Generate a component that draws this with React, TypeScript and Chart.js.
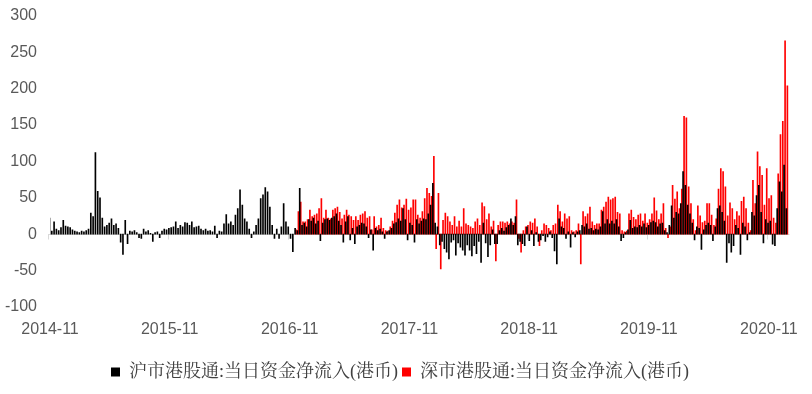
import React, { useEffect, useRef } from "react";
import { Chart, registerables } from "chart.js";

Chart.register(...registerables);

// Weekly samples starting at the first trading week of the Shanghai connect
const START_DATE = "2014-11-17";
const WEEK_DAYS = 7;
const SZ_START_WEEK = 107; // Shenzhen connect starts 2016-12-05

// x tick positions (days since START_DATE) and their labels
const TICK_DAYS = [0, 365, 731, 1096, 1461, 1826, 2192];
const TICK_LABELS = ["2014-11", "2015-11", "2016-11", "2017-11", "2018-11", "2019-11", "2020-11"];
const X_MAX_DAYS = 2287;
const AXIS_END_DAYS = 2255;

const Y_MIN = -100;
const Y_MAX = 300;
const Y_STEP = 50;

const SH_NAME = "沪市港股通:当日资金净流入(港币)";
const SZ_NAME = "深市港股通:当日资金净流入(港币)";

// 沪市港股通 当日资金净流入 (亿港币), weekly readings
const SH_VALUES = [
  22, 4, 17, 7, 5, 9, 19, 11, 10, 9,
  6, 4, 3, 2, 4, 3, 5, 7, 29, 24,
  112, 59, 50, 22, 10, 12, 15, 21, 12, 14,
  8, -11, -28, 19, -13, 4, 3, 5, 2, -5,
  -6, 7, 3, 5, 1, -10, 2, 3, -5, 4,
  7, 6, 8, 9, 10, 17, 8, 12, 10, 16,
  15, 12, 17, 9, 10, 11, 7, 5, 7, 4,
  5, 3, 11, -5, 4, 3, 14, 27, 14, 17,
  12, 26, 35, 61, 40, 21, 17, 7, -5, 3,
  12, 21, 49, 54, 64, 58, 37, 12, -6, 7,
  -6, 10, 42, 17, 10, -6, -24, 8, 5, 63,
  12, 15, 10, 20, 18, 22, 14, 18, -9, 15,
  20, 21, 19, 22, 24, 28, 18, 12, -11, 17,
  24, -8, 8, -13, 10, 12, 15, 14, 10, -5,
  6, -22, 8, 5, 7, 3, -6, 3, 5, 8,
  14, 16, 21, 18, 35, 20, -8, 15, 12, -11,
  20, 14, 18, 21, 20, 28, 40, 70, 15, 10,
  -15, -10, -20, -25, -34, -11, -8, -29, -12, -18,
  -22, -29, -15, -22, -30, -16, -27, -10, -39, 15,
  -12, -31, -15, 6, -13, -13, 5, 8, 4, 9,
  12, 21, 12, 24, -15, -10, -13, -16, 10, -9,
  5, -16, 2, -10, -8, -2, -10, -4, 3, -5,
  -23, -41, 21, 10, 8, -6, 3, -18, 2, -4,
  3, 5, 12, 10, 14, 7, 8, 5, 7, 6,
  10, 31, 14, 20, 14, 18, 14, 20, 10, -9,
  -5, 2, 6, 19, 8, 10, 9, 12, 10, 14,
  9, 12, 16, 18, 16, 10, 14, 15, 5, 2,
  12, 39, 22, 30, 28, 42, 86, 67, 40, 28,
  15, -8, 10, 8, -21, 6, 12, 15, 12, -9,
  10, 35, 39, 30, 18, -39, -12, -25, -16, 12,
  8, -28, 15, 10, -8, 2, 30, 25, 53, 67,
  30, -12, 20, 15, 18, -14, -16, 35, 72, 58, 95, 35,
];

// 深市港股通 当日资金净流入 (亿港币), weekly readings from SZ_START_WEEK
const SZ_VALUES = [
  6, 31, 44,
  17, 17, 20, 33, 24, 26, 28, 35, 49, 22,
  33, 22, 21, 33, 35, 37, 30, 21, 26, 33,
  26, 24, 19, 24, 19, 26, 28, 31, 22, 24,
  6, 24, 10, 12, 22, 8, 5, 4, 10, 18,
  29, 40, 47, 36, 40, 48, 33, 36, 47, 47,
  26, 22, 31, 49, 63, 56, 52, 107, -20, 56,
  -48, 19, 29, 24, 17, 12, 24, 10, 18, 10,
  35, 14, 12, 10, 8, 17, 21, 12, 43, 38,
  20, 28, 10, 18, -37, 12, 17, 17, 15, 17,
  14, 17, 15, 47, -6, -25, 5, 10, 12, 17,
  15, 21, 10, -16, 5, 14, 12, 8, 5, 12,
  14, 40, 31, 17, 28, 21, 24, 5, 3, 5,
  14, -41, 31, 24, 28, 37, 17, 12, 14, 14,
  33, 37, 44, 51, 47, 49, 51, 30, 28, 5,
  3, 4, 28, 33, 23, 20, 26, 28, 18, 28,
  15, 20, 28, 50, 32, 20, 28, 42, 8, -5,
  10, 67, 48, 58, 35, 62, 162, 160, 65, 42,
  20, 5, 39, 25, 16, 18, 42, 42, 26, 12,
  21, 62, 90, 86, 65, 25, 43, 35, 20, 31,
  25, 45, 51, 35, 15, 5, 74, 42, 113, 93,
  81, 40, 90, 49, 53, 22, 15, 83, 137, 155, 266, 204,
];

const SH_COLOR = "#000000";
const SZ_COLOR = "#FF0000";
const TEXT_COLOR = "#595959";
const AXIS_COLOR = "#D9D9D9";
const TICK_FONT = '"Liberation Sans", Arial, sans-serif';
const LEGEND_FONT = '"Liberation Serif", "Noto Serif CJK SC", "Noto Sans CJK SC", serif';

const zeroAxis = {
  id: "zeroAxis",
  beforeDatasetsDraw(chart: any) {
    const x = chart.scales.x;
    const y = chart.scales.y;
    const ctx = chart.ctx;
    const y0 = Math.round(y.getPixelForValue(0)) + 0.5;
    const xs = x.getPixelForValue(0) - 2;
    const xe = x.getPixelForValue(AXIS_END_DAYS);
    ctx.save();
    ctx.strokeStyle = AXIS_COLOR;
    ctx.lineWidth = 1;
    ctx.beginPath();
    ctx.moveTo(xs, y0);
    ctx.lineTo(xe, y0);
    TICK_DAYS.forEach((d) => {
      const px = Math.round(x.getPixelForValue(d)) - 1.5;
      ctx.moveTo(px, y0);
      ctx.lineTo(px, y0 + 5);
    });
    ctx.stroke();
    ctx.restore();
  },
};

export default function App() {
  const ref = useRef<HTMLCanvasElement | null>(null);

  useEffect(() => {
    if (!ref.current) return;
    const shData = SH_VALUES.map((v, i) => ({ x: i * WEEK_DAYS, y: v }));
    const szData = SZ_VALUES.map((v, i) => ({ x: (SZ_START_WEEK + i) * WEEK_DAYS, y: v }));
    const chart = new Chart(ref.current, {
      type: "bar",
      data: {
        datasets: [
          {
            label: SH_NAME,
            data: shData,
            backgroundColor: SH_COLOR,
            borderColor: SH_COLOR,
            borderWidth: 0,
            barThickness: 1,
          },
          {
            label: SZ_NAME,
            data: szData,
            backgroundColor: SZ_COLOR,
            borderColor: SZ_COLOR,
            borderWidth: 0,
            barThickness: 1,
          },
        ],
      },
      options: {
        animation: false,
        responsive: false,
        maintainAspectRatio: false,
        layout: { padding: { top: 16, right: 12, bottom: 3, left: 0 } },
        plugins: {
          legend: {
            position: "bottom",
            labels: {
              boxWidth: 9,
              boxHeight: 9,
              padding: 4,
              color: "#404040",
              font: { family: LEGEND_FONT, size: 18 },
            },
          },
          tooltip: { enabled: false },
          title: { display: false },
        },
        scales: {
          x: {
            type: "linear",
            min: 0,
            max: X_MAX_DAYS,
            offset: false,
            grid: { display: false, drawTicks: false },
            border: { display: false },
            afterBuildTicks: (s: any) => {
              s.ticks = TICK_DAYS.map((v) => ({ value: v }));
            },
            afterFit: (s: any) => {
              s.height = s.height + 7;
            },
            ticks: {
              autoSkip: false,
              maxRotation: 0,
              minRotation: 0,
              padding: 13,
              color: TEXT_COLOR,
              font: { family: TICK_FONT, size: 16 },
              callback: (v: any) => {
                const k = TICK_DAYS.indexOf(Number(v));
                return k >= 0 ? TICK_LABELS[k] : "";
              },
            },
          },
          y: {
            min: Y_MIN,
            max: Y_MAX,
            afterFit: (s: any) => {
              s.width = 50;
              s.paddingTop = 0;
              s.paddingBottom = 0;
            },
            grid: { display: false, drawTicks: false },
            border: { display: false },
            ticks: {
              stepSize: Y_STEP,
              padding: 13,
              color: TEXT_COLOR,
              font: { family: TICK_FONT, size: 16 },
            },
          },
        },
      },
      plugins: [zeroAxis],
    });
    return () => chart.destroy();
  }, []);

  return (
    <div style={{ position: "absolute", left: 0, top: 0, width: 812, height: 394, background: "#fff" }}>
      <canvas ref={ref} width={812} height={394} style={{ width: 812, height: 394 }} />
    </div>
  );
}
